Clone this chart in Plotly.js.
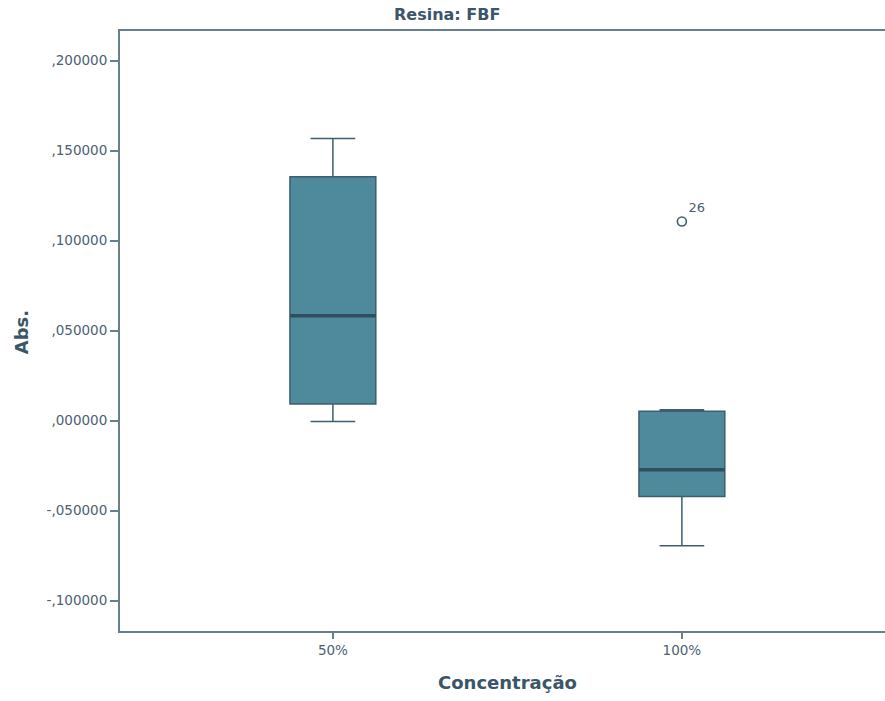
<!DOCTYPE html>
<html>
<head>
<meta charset="utf-8">
<script src="https://cdn.plot.ly/plotly-3.0.1.min.js"></script>
<style>html,body{margin:0;padding:0;background:#fff;overflow:hidden}</style>
</head>
<body>
<div id="chart" style="width:885px;height:701px"></div>
<script>
// Data
const categories = ["50%", "100%"];
const xPos = [0, 1];
const lowerFence = [-0.0004, -0.0694];
const q1Vals = [0.0093, -0.0421];
const medianVals = [0.0582, -0.0272];
const q3Vals = [0.1354, 0.0053];
const upperFence = [0.1567, 0.0061];
const outlierX = [1];
const outlierY = [0.1106];
const outlierLabels = ["26"];
const yTickVals = [0.2, 0.15, 0.1, 0.05, 0.0, -0.05, -0.1];
const yTickText = [",200000", ",150000", ",100000", ",050000", ",000000", "-,050000", "-,100000"];

const boxWidth = 0.246;
const lineCol = "#3c5f70";
const fillCol = "#4f8a9c";
const textCol = "#4a6172";
const titleCol = "#3b5668";
const axisCol = "#66808d";
const fontFam = "DejaVu Sans, Verdana, sans-serif";

const traces = [{
  type: "box",
  x: xPos,
  q1: q1Vals,
  median: medianVals,
  q3: q3Vals,
  lowerfence: lowerFence,
  upperfence: upperFence,
  width: boxWidth,
  whiskerwidth: 0.52,
  fillcolor: fillCol,
  line: {color: lineCol, width: 1.5},
  boxpoints: false,
  hoverinfo: "skip",
  showlegend: false
}, {
  type: "scatter",
  mode: "markers+text",
  x: outlierX,
  y: outlierY,
  text: outlierLabels,
  textposition: "top right",
  textfont: {family: fontFam, size: 13, color: textCol},
  marker: {symbol: "circle-open", size: 9, color: lineCol, line: {width: 1.6, color: lineCol}},
  cliponaxis: false,
  showlegend: false,
  hoverinfo: "skip"
}];

const shapes = xPos.map((x, i) => ({
  type: "line", xref: "x", yref: "y",
  x0: x - boxWidth / 2, x1: x + boxWidth / 2,
  y0: medianVals[i], y1: medianVals[i],
  line: {color: "#2f4e5e", width: 3.5}
}));

const layout = {
  width: 885, height: 701,
  margin: {l: 120, r: 0, t: 31, b: 70},
  paper_bgcolor: "#ffffff",
  plot_bgcolor: "#ffffff",
  showlegend: false,
  font: {family: fontFam, size: 13, color: textCol},
  xaxis: {
    range: [-0.61, 1.582],
    tickvals: xPos,
    ticktext: categories,
    showgrid: false, zeroline: false,
    showline: true, linecolor: axisCol, linewidth: 2, mirror: true,
    ticks: "outside", ticklen: 6, tickwidth: 1.5, tickcolor: axisCol,
    tickfont: {family: fontFam, size: 13.5, color: textCol}
  },
  yaxis: {
    range: [-0.1168, 0.2164],
    tickvals: yTickVals,
    ticktext: yTickText,
    showgrid: false, zeroline: false,
    showline: true, linecolor: axisCol, linewidth: 2,
    ticks: "outside", ticklen: 8, tickwidth: 2, tickcolor: axisCol,
    tickfont: {family: fontFam, size: 13.5, color: textCol}
  },
  shapes: shapes,
  annotations: [{
    text: "<b>Resina: FBF</b>", xref: "paper", yref: "paper",
    x: 0.4275, y: 1, xanchor: "center", yanchor: "middle", yshift: 16.5, showarrow: false,
    font: {family: fontFam, size: 16, color: titleCol}
  }, {
    text: "<b>Abs.</b>", xref: "paper", yref: "paper",
    x: 0, xshift: -99, y: 0.498, xanchor: "center", yanchor: "middle", textangle: -90, showarrow: false,
    font: {family: fontFam, size: 18, color: titleCol}
  }, {
    text: "<b>Concentração</b>", xref: "paper", yref: "paper",
    x: 0.507, y: 0, xanchor: "center", yanchor: "middle", yshift: -51, showarrow: false,
    font: {family: fontFam, size: 18, color: titleCol}
  }]
};

Plotly.newPlot("chart", traces, layout, {displayModeBar: false, staticPlot: true});
</script>
</body>
</html>
